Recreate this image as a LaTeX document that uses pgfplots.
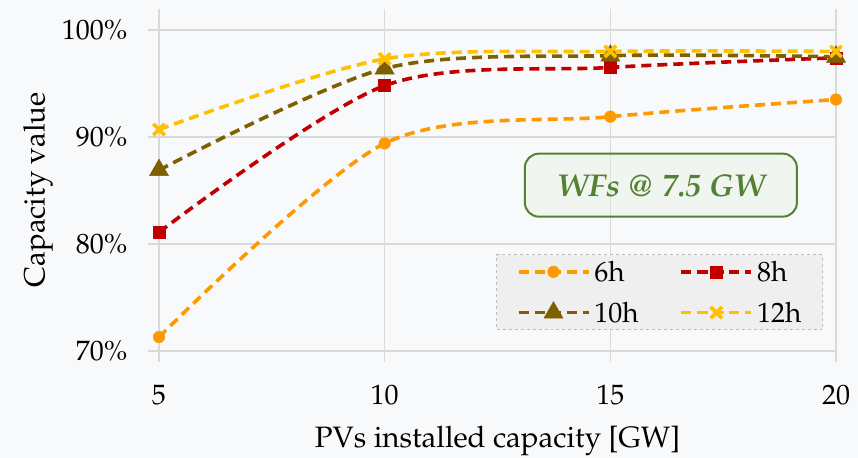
\documentclass[border=0pt]{standalone}
\usepackage[T1]{fontenc}
\usepackage{mathpazo}
\usepackage{pgfplots}
\pgfplotsset{compat=1.18}
\definecolor{bgc}{RGB}{248,249,251}
\definecolor{c6}{RGB}{255,153,0}
\definecolor{c8}{RGB}{192,0,0}
\definecolor{c10}{RGB}{127,96,0}
\definecolor{c12}{RGB}{255,192,0}
\definecolor{gridc}{RGB}{217,217,217}
\definecolor{boxg}{RGB}{84,130,53}
\definecolor{boxf}{RGB}{226,240,217}
\definecolor{legf}{RGB}{239,239,239}
\definecolor{legd}{RGB}{191,191,191}
\newcommand\bfnt{\fontsize{28bp}{32bp}\selectfont}
\newcommand\lfnt{\fontsize{29.5bp}{34bp}\selectfont}
\begin{document}
\begin{tikzpicture}
\fill[bgc] (-159bp,-107bp) rectangle (699bp,351bp);
\useasboundingbox (-159bp,-107bp) rectangle (699bp,351bp);
\begin{axis}[
  scale only axis,
  width=677bp, height=342.4bp,
  xmin=5, xmax=20, ymin=70, ymax=102,
  xtick={5,10,15,20}, xticklabels={5,10,15,20},
  ytick={70,80,90,100}, yticklabels={70\%,80\%,90\%,100\%},
  grid=major, grid style={gridc, line width=1.5bp},
  axis line style={draw=none},
  tick align=outside, major tick length=11bp,
  tick style={gridc, line width=1.5bp},
  xtick pos=bottom, ytick pos=left,
  tick label style={font=\bfnt},
  yticklabel style={xshift=-17bp},
  xticklabel style={yshift=-20bp},
  xlabel={PVs installed capacity [GW]},
  ylabel={Capacity value},
  label style={font=\lfnt},
  x label style={at={(axis description cs:0.5,0)}, anchor=center, yshift=-90bp},
  y label style={at={(axis description cs:0,0.5)}, anchor=center, xshift=-10bp, yshift=121bp},
  legend columns=2,
  legend cell align=left,
  legend style={at={(axis description cs:1,0)}, anchor=south east, xshift=-13bp, yshift=21bp,
    fill=legf, draw=legd, dashed, line width=1bp, font=\bfnt,
    /tikz/every even column/.append style={column sep=40bp},
    /tikz/every odd column/.append style={column sep=3bp},
    nodes={inner sep=1bp}, row sep=17bp,
    inner xsep=20bp, inner ysep=5bp},
  legend image code/.code={\draw[mark repeat=2,mark phase=2,#1] plot coordinates {(0bp,0bp)(35bp,0bp)(70bp,0bp)};},
  every axis plot/.append style={smooth, tension=0.5, line width=3.6bp, dash pattern=on 10bp off 6bp},
]
\addplot[c6, mark=*, mark size=5.8bp, mark options={solid, line width=0.5bp}] coordinates {(5,71.3)(10,89.4)(15,91.9)(20,93.5)};
\addlegendentry{6h}
\addplot[c8, mark=square*, mark size=6bp, mark options={solid, line width=0.5bp}] coordinates {(5,81.1)(10,94.8)(15,96.5)(20,97.4)};
\addlegendentry{8h}
\addplot[c10, mark=triangle*, mark size=11bp, mark options={solid, line width=0.5bp}] coordinates {(5,86.9)(10,96.4)(15,97.6)(20,97.5)};
\addlegendentry{10h}
\addplot[c12, mark=x, mark size=8bp, mark options={solid, line width=3.6bp}] coordinates {(5,90.7)(10,97.3)(15,98.0)(20,98.0)};
\addlegendentry{12h}
\node[draw=boxg, line width=2bp, rounded corners=14bp, fill=boxf, fill opacity=0.35, text opacity=1, text=boxg,
  minimum width=272bp, minimum height=63bp, font=\fontsize{31.5bp}{36bp}\selectfont\bfseries\itshape]
  at (axis cs:16.12,85.5) {WFs @ 7.5 GW};
\end{axis}
\end{tikzpicture}
\end{document}
